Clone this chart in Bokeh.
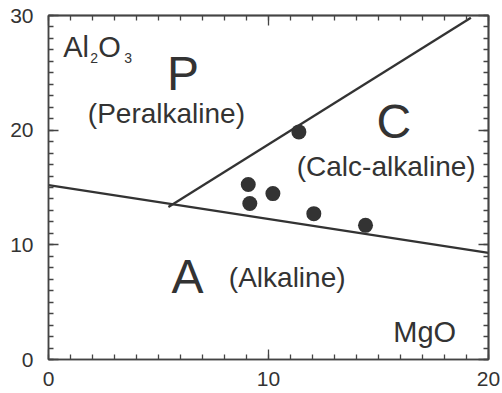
from bokeh.plotting import figure
from bokeh.models import Range1d, FixedTicker, LinearAxis
from bokeh.core.properties import value
from bokeh.embed import file_html
from bokeh.resources import INLINE

# sample points (MgO, Al2O3)
mgo = [11.38, 9.08, 10.2, 9.15, 12.06, 14.41]
al2o3 = [19.85, 15.26, 14.47, 13.6, 12.72, 11.7]

# boundary between A and P/C fields
bound1_x = [0, 20]
bound1_y = [15.2, 9.3]
# boundary between P and C fields
bound2_x = [5.45, 19.2]
bound2_y = [13.3, 29.8]

# field labels
field_letters = ["P", "C", "A"]
field_letter_x = [6.11, 15.70, 6.32]
field_letter_y = [23.5, 19.27, 5.74]
field_names = ["(Peralkaline)", "(Calc-alkaline)", "(Alkaline)"]
field_name_x = [5.36, 15.35, 10.85]
field_name_y = [20.58, 15.92, 6.31]

# ticks
x_minor_ticks = list(range(0, 21))
y_minor_ticks = list(range(0, 31))
x_major_ticks = [0, 10, 20]
y_major_ticks = [0, 10, 20, 30]

FONT = "Liberation Sans"
DARK = "#333333"
AXC = "#444444"

p = figure(width=502, height=393, output_backend="svg", toolbar_location=None,
           x_range=Range1d(0, 20), y_range=Range1d(0, 30),
           min_border_left=48, min_border_right=14, min_border_top=15, min_border_bottom=34,
           x_axis_location=None, y_axis_location=None)
p.background_fill_color = "white"
p.border_fill_color = "white"
p.grid.visible = False
p.outline_line_color = AXC
p.outline_line_width = 1.5


def style_ticks(ax):
    ax.axis_line_color = AXC
    ax.axis_line_width = 1.5
    ax.major_tick_in = 10
    ax.major_tick_out = 0
    ax.minor_tick_in = 5
    ax.minor_tick_out = 0
    ax.major_tick_line_color = AXC
    ax.minor_tick_line_color = AXC
    ax.major_tick_line_width = 1.3
    ax.minor_tick_line_width = 1.3


def labeled_axis(major, minor, standoff):
    ax = LinearAxis(ticker=FixedTicker(ticks=major, minor_ticks=minor))
    style_ticks(ax)
    ax.major_label_text_font = FONT
    ax.major_label_text_font_size = "21px"
    ax.major_label_text_color = DARK
    ax.major_label_standoff = standoff
    return ax


def tick_only_axis(minor, length):
    ax = LinearAxis(ticker=FixedTicker(ticks=[], minor_ticks=minor))
    style_ticks(ax)
    ax.minor_tick_in = length
    ax.major_label_standoff = 0
    return ax


p.add_layout(labeled_axis(x_major_ticks, x_minor_ticks, 12), "below")
p.add_layout(labeled_axis(y_major_ticks, y_minor_ticks, 15), "left")
p.add_layout(tick_only_axis(x_minor_ticks, 5), "above")
p.add_layout(tick_only_axis(x_major_ticks, 10), "above")
p.add_layout(tick_only_axis(y_minor_ticks, 5), "right")
p.add_layout(tick_only_axis(y_major_ticks, 10), "right")

# boundary lines
p.line(bound1_x, bound1_y, line_color=DARK, line_width=2.3)
p.line(bound2_x, bound2_y, line_color=DARK, line_width=2.3)

# points
p.scatter(mgo, al2o3, size=15, fill_color=DARK, line_color=None)

# field letters
p.text(field_letter_x, field_letter_y, text=field_letters, text_font=value(FONT),
       text_font_size="48px", text_color=DARK, text_align="center", text_baseline="alphabetic",
       y_offset=-17)
p.text(field_name_x, field_name_y, text=field_names, text_font=value(FONT),
       text_font_size="28px", text_color=DARK, text_align="center", text_baseline="alphabetic",
       y_offset=-10)

# Al2O3 label with subscripts
p.text([0.67, 0.67], [26.4, 26.4], text=["Al", "O"], x_offset=[0, 35], y_offset=[-10, -10],
       text_font=value(FONT), text_font_size="29px", text_color=DARK,
       text_align="left", text_baseline="alphabetic")
p.text([0.67, 0.67], [26.4, 26.4], text=["2", "3"], x_offset=[27, 61], y_offset=[1, 1],
       text_font=value(FONT), text_font_size="14px", text_color=DARK,
       text_align="left", text_baseline="alphabetic")

# MgO label
p.text([17.1], [1.51], text=["MgO"], text_font=value(FONT), text_font_size="29px",
       text_color=DARK, text_align="center", text_baseline="alphabetic", y_offset=-10)

open("out.html", "w").write(file_html(p, INLINE))
